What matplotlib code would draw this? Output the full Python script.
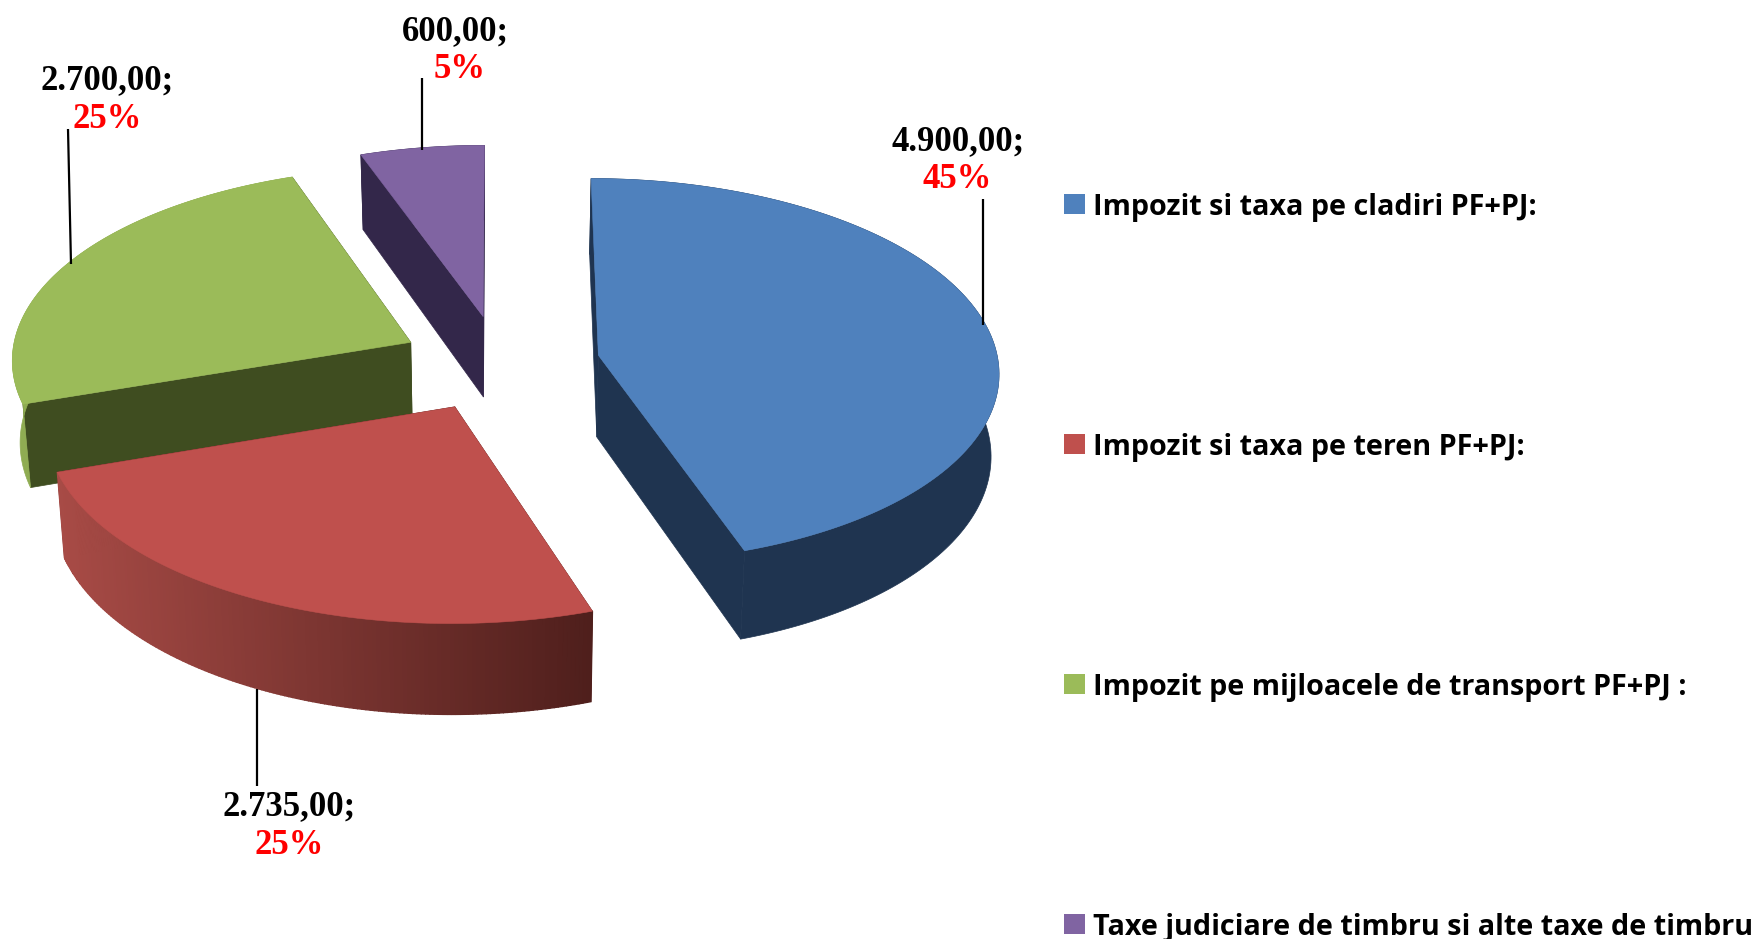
import numpy as np
import matplotlib

matplotlib.use("Agg")
import matplotlib.pyplot as plt
from matplotlib.colors import to_rgb

# data
categories = [
    "Impozit si taxa pe cladiri PF+PJ:",
    "Impozit si taxa pe teren PF+PJ:",
    "Impozit pe mijloacele de transport PF+PJ :",
    "Taxe judiciare de timbru si alte taxe de timbru",
]
values = [4900.0, 2735.0, 2700.0, 600.0]
value_labels = ["4.900,00;", "2.735,00;", "2.700,00;", "600,00;"]
pct_labels = ["45%", "25%", "25%", "5%"]

# styles
top_colors = ["#4f81bd", "#bf504d", "#9bbb59", "#8064a2"]
cut_colors = ["#1f3450", "#4f1f1c", "#3f4d20", "#33274a"]
rim_left = ["#1f3450", "#a84b46", "#8fac52", "#33274a"]
rim_right = ["#1f3450", "#4f1f1c", "#8fac52", "#33274a"]
draw_order = [3, 2, 0, 1]

# layout, in figure pixels
CX, CY = 500, 363
RX, RY = 400, 192
PERSP = 0.08
EXPLODE = 0.25
DEPTH = 82
DEPTH_SHRINK = 0.016

value_xy = [(958, 142), (289, 807), (107, 81), (455, 32)]
pct_xy = [(957, 180), (289, 846), (107, 120), (460, 70)]
leaders = [
    ((983, 983), (199, 325)),
    ((257, 257), (689, 786)),
    ((68, 71), (129, 264)),
    ((422, 422), (78, 150)),
]
legend_y = [204, 444, 684, 924]


def project(u, v, z=0.0):
    s = 1 / (1 + PERSP * v)
    x = RX * u * s
    y = RY * v * s
    return CX + x * (1 - DEPTH_SHRINK * z), CY - y + DEPTH * z * s


fig = plt.figure(figsize=(17.6, 9.39), dpi=100)
ax = fig.add_axes([0, 0, 1, 1])
ax.set_xlim(0, 1760)
ax.set_ylim(939, 0)
ax.axis("off")

# slice angles run clockwise from the top
shares = np.array(values) / sum(values) * 360
ends = np.cumsum(shares)
starts = ends - shares

for i in draw_order:
    mid = np.radians((starts[i] + ends[i]) / 2)
    ou, ov = EXPLODE * np.sin(mid), EXPLODE * np.cos(mid)
    angles = np.radians(np.linspace(starts[i], ends[i], 160))
    u = ou + np.sin(angles)
    v = ov + np.cos(angles)

    # the two cut faces
    for k in (0, -1):
        xa, ya = project(np.array([ou, u[k]]), np.array([ov, v[k]]), 0)
        xb, yb = project(np.array([u[k], ou]), np.array([v[k], ov]), 1)
        ax.fill(np.r_[xa, xb], np.r_[ya, yb], color=cut_colors[i], lw=0.5)

    # outer wall, only the red one is shaded
    x0, y0 = project(u, v, 0)
    x1, y1 = project(u, v, 1)
    if rim_left[i] == rim_right[i]:
        ax.fill(np.r_[x0, x1[::-1]], np.r_[y0, y1[::-1]], color=rim_left[i], lw=0.5)
    else:
        c_a, c_b = np.array(to_rgb(rim_left[i])), np.array(to_rgb(rim_right[i]))
        for j in np.argsort(x0[:-1]):
            t = (x0[j] - x0.min()) / (x0.max() - x0.min())
            ax.fill(
                [x0[j], x0[j + 1], x1[j + 1], x1[j]],
                [y0[j], y0[j + 1], y1[j + 1], y1[j]],
                color=c_a + (c_b - c_a) * t,
                lw=1.0,
            )

    # top face
    xt, yt = project(np.r_[ou, u], np.r_[ov, v], 0)
    ax.fill(xt, yt, color=top_colors[i], lw=0.4)

for xs, ys in leaders:
    ax.plot(xs, ys, color="black", lw=1.6, solid_capstyle="butt")

label_font = dict(family="Liberation Serif", weight="bold", fontsize=25, ha="center", va="center")
for i in range(len(values)):
    ax.text(*value_xy[i], value_labels[i], color="black", **label_font)
    ax.text(*pct_xy[i], pct_labels[i], color="#ff0000", **label_font)

for i, name in enumerate(categories):
    ax.fill(
        [1064, 1085, 1085, 1064],
        [legend_y[i] - 10, legend_y[i] - 10, legend_y[i] + 10, legend_y[i] + 10],
        color=top_colors[i],
        lw=0,
    )
    ax.text(1093, legend_y[i] + 3, name, family="Open Sans", weight="bold", fontsize=20.7,
            color="black", ha="left", va="center")

fig.savefig("out.png", dpi=100, facecolor="white")
